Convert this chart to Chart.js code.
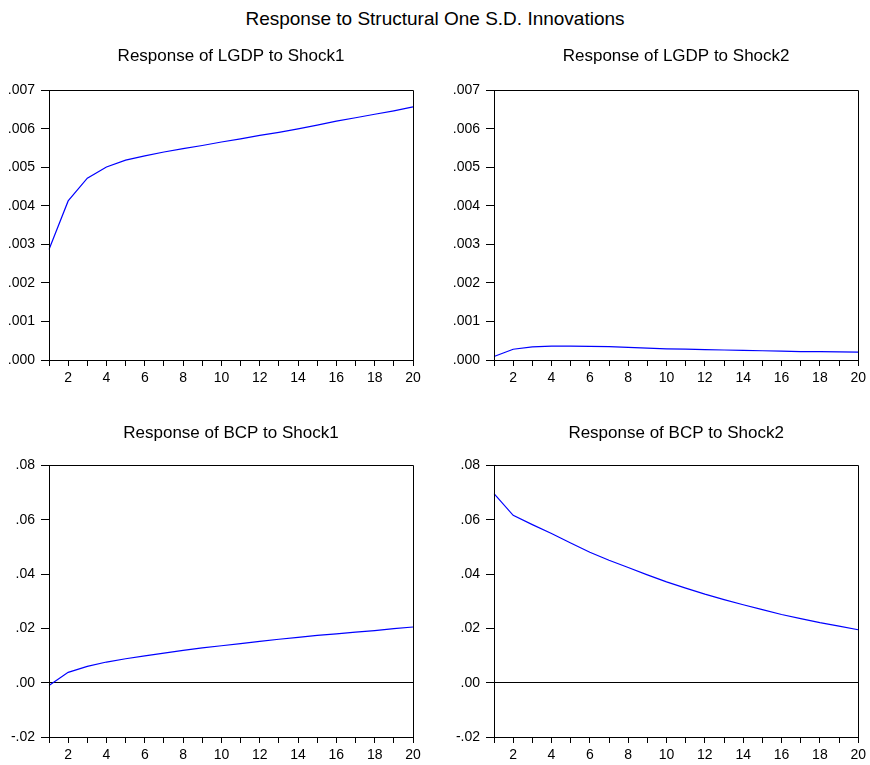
<!DOCTYPE html>
<html>
<head>
<meta charset="utf-8">
<script src="https://cdn.jsdelivr.net/npm/chart.js@4.4.1/dist/chart.umd.min.js"></script>
<style>
  html, body { margin: 0; padding: 0; background: #fff; }
  body { width: 870px; height: 765px; position: relative; overflow: hidden; font-family: "Liberation Sans", Arial, sans-serif; }
  #mainTitle { position: absolute; left: 0; width: 870px; top: 8px; text-align: center; font-size: 19px; line-height: 22px; color: #000; }
  .panel { position: absolute; }
</style>
</head>
<body>
<div id="mainTitle">Response to Structural One S.D. Innovations</div>
<div class="panel" style="left:0px;top:35px;width:435px;height:355px"><canvas id="c1"></canvas></div>
<div class="panel" style="left:445px;top:35px;width:425px;height:355px"><canvas id="c2"></canvas></div>
<div class="panel" style="left:0px;top:410px;width:435px;height:355px"><canvas id="c3"></canvas></div>
<div class="panel" style="left:445px;top:410px;width:425px;height:355px"><canvas id="c4"></canvas></div>
<script>
// ---- data ----
const periods = [1,2,3,4,5,6,7,8,9,10,11,12,13,14,15,16,17,18,19,20];
const lgdpShock1 = [0.00287, 0.00413, 0.00472, 0.00501, 0.00519, 0.00530, 0.00540, 0.00549, 0.00557, 0.00566,
                    0.00574, 0.00583, 0.00591, 0.00600, 0.00610, 0.00620, 0.00629, 0.00638, 0.00647, 0.00657];
const lgdpShock2 = [0.00009, 0.00028, 0.00034, 0.00036, 0.00036, 0.000355, 0.000345, 0.00033, 0.00031, 0.00029,
                    0.00028, 0.00027, 0.00026, 0.00025, 0.00024, 0.00023, 0.00022, 0.000215, 0.00021, 0.000205];
const bcpShock1 = [-0.0010, 0.0038, 0.0060, 0.0076, 0.0088, 0.0099, 0.0109, 0.0119, 0.0128, 0.0136,
                   0.0144, 0.0152, 0.0160, 0.0167, 0.0174, 0.0180, 0.0186, 0.0192, 0.0199, 0.0205];
const bcpShock2 = [0.0696, 0.0616, 0.0582, 0.0549, 0.0514, 0.0480, 0.0451, 0.0424, 0.0397, 0.0371,
                   0.0348, 0.0326, 0.0306, 0.0287, 0.0269, 0.0251, 0.0236, 0.0221, 0.0208, 0.0195];
const titles = ["Response of LGDP to Shock1", "Response of LGDP to Shock2",
                "Response of BCP to Shock1", "Response of BCP to Shock2"];
const lgdpTicks = { min: 0, max: 0.007, step: 0.001, decimals: 3 };
const bcpTicks = { min: -0.02, max: 0.08, step: 0.02, decimals: 2 };

// ---- rendering ----
Chart.defaults.font.family = '"Liberation Sans", Arial, sans-serif';
Chart.defaults.color = '#000';
Chart.defaults.animation = false;

const frame = {
  id: 'frame',
  afterDatasetsDraw(chart) {
    const a = chart.chartArea, ctx = chart.ctx;
    ctx.save();
    ctx.strokeStyle = '#000';
    ctx.lineWidth = 1;
    const l = Math.floor(a.left) + 0.5, t = Math.floor(a.top) + 0.5;
    const r = Math.floor(a.right) + 0.5, b = Math.floor(a.bottom) + 0.5;
    ctx.beginPath();
    ctx.moveTo(l, b); ctx.lineTo(l, t); ctx.lineTo(r, t); ctx.lineTo(r, b); ctx.lineTo(l, b);
    ctx.stroke();
    ctx.restore();
  }
};

function fmt(v, d) {
  return v.toFixed(d).replace('0.', '.');
}

function makeChart(id, title, values, yt, padRight, titleTop, titleBottom, xHeight) {
  return new Chart(document.getElementById(id), {
    type: 'line',
    data: {
      labels: periods,
      datasets: [{
        data: values,
        borderColor: '#0000ff',
        borderWidth: 1.2,
        pointRadius: 0,
        tension: 0,
        fill: false
      }]
    },
    options: {
      responsive: true,
      maintainAspectRatio: false,
      layout: { padding: { left: 0, right: padRight, top: 0, bottom: 0 } },
      plugins: {
        legend: { display: false },
        tooltip: { enabled: false },
        title: {
          display: true,
          text: title,
          fullSize: false,
          color: '#000',
          font: { size: 17, weight: 'normal' },
          padding: { top: titleTop, bottom: titleBottom }
        }
      },
      scales: {
        x: {
          type: 'category',
          offset: false,
          grid: { display: true, drawOnChartArea: false, drawTicks: true, tickLength: 6, tickColor: '#000', color: '#000' },
          border: { display: true, color: '#000', width: 1 },
          ticks: {
            autoSkip: false, maxRotation: 0, minRotation: 0, padding: 4,
            font: { size: 14 }, color: '#000',
            callback: function (value, index) {
              const p = periods[index];
              return p % 2 === 0 ? String(p) : '';
            }
          },
          afterFit: function (s) { s.height = xHeight; }
        },
        y: {
          min: yt.min, max: yt.max,
          grid: {
            display: true, drawOnChartArea: true, drawTicks: true, tickLength: 8,
            tickColor: '#000',
            color: (c) => (c.tick && Math.abs(c.tick.value) < 1e-12 ? '#000' : 'rgba(0,0,0,0)')
          },
          border: { display: true, color: '#000', width: 1 },
          ticks: {
            stepSize: yt.step, padding: 6,
            font: { size: 14 }, color: '#000',
            callback: (v) => fmt(v, yt.decimals)
          },
          afterFit: function (s) { s.width = 49; }
        }
      }
    },
    plugins: [frame]
  });
}

makeChart('c1', titles[0], lgdpShock1, lgdpTicks, 22, 11, 24, 30);
makeChart('c2', titles[1], lgdpShock2, lgdpTicks, 11, 11, 24, 30);
makeChart('c3', titles[2], bcpShock1, bcpTicks, 22, 13, 22, 28);
makeChart('c4', titles[3], bcpShock2, bcpTicks, 11, 13, 22, 28);
</script>
</body>
</html>
